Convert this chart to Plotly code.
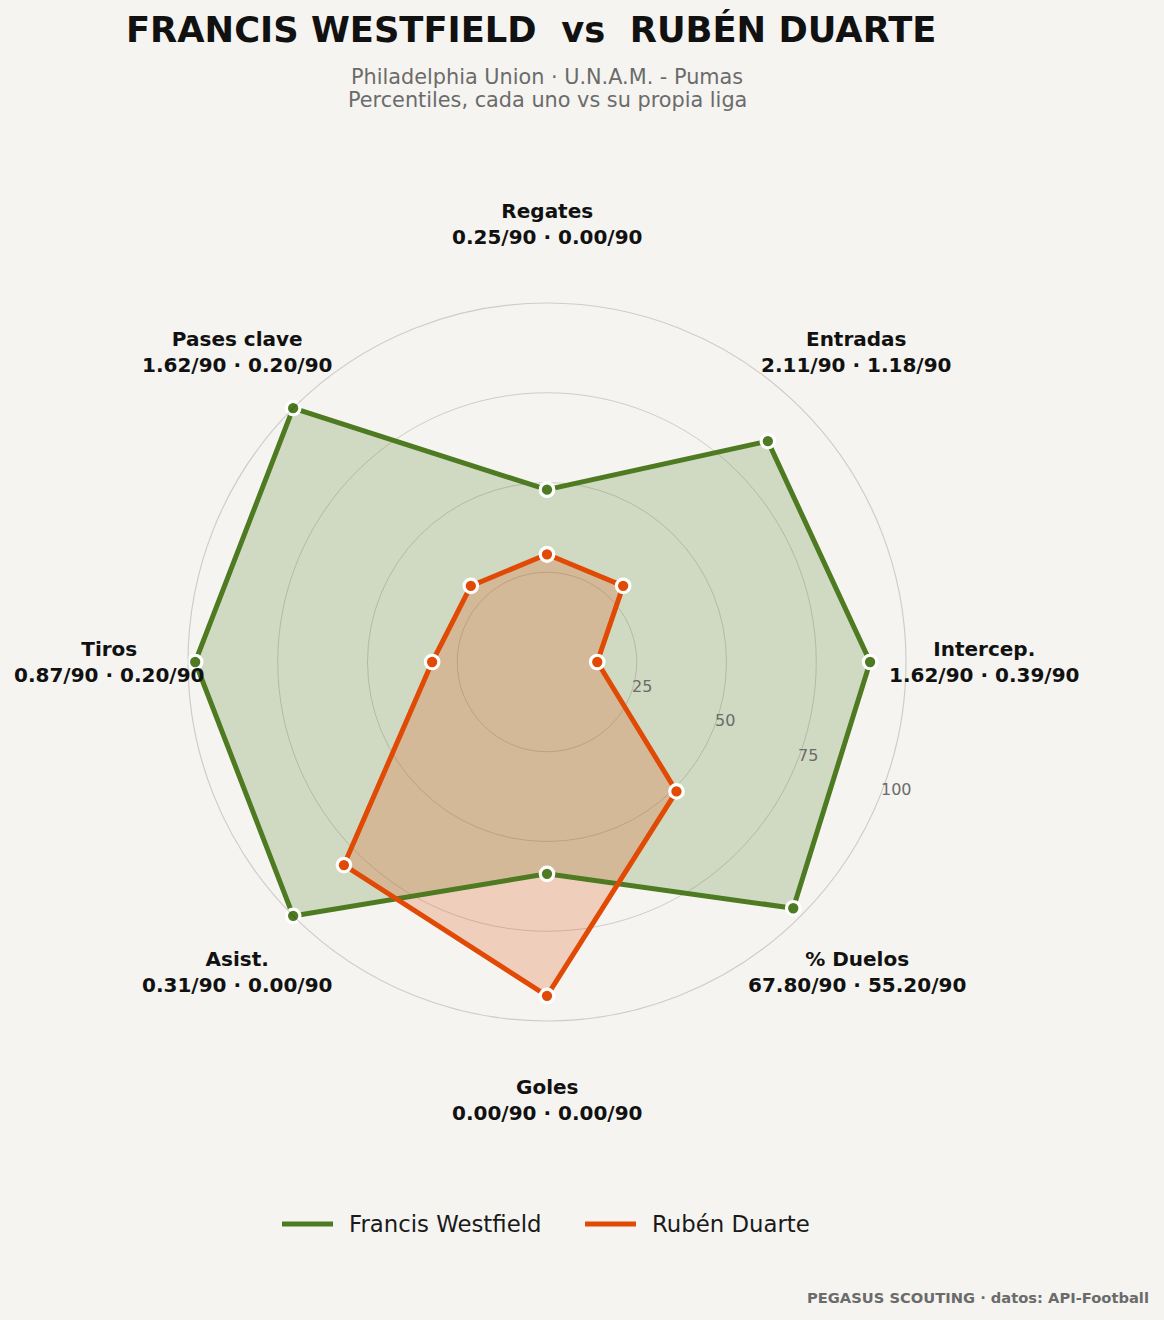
import math
import plotly.graph_objects as go

categories = ["Regates", "Entradas", "Intercep.", "% Duelos", "Goles", "Asist.", "Tiros", "Pases clave"]
stat_labels = ["0.25/90 · 0.00/90", "2.11/90 · 1.18/90", "1.62/90 · 0.39/90", "67.80/90 · 55.20/90",
               "0.00/90 · 0.00/90", "0.31/90 · 0.00/90", "0.87/90 · 0.20/90", "1.62/90 · 0.20/90"]
westfield = [48, 87, 90, 97, 59, 100, 98, 100]
duarte = [30, 30, 14, 51, 93, 80, 32, 30]
player_names = ["Francis Westfield", "Rubén Duarte"]
radial_ticks = [25, 50, 75, 100]

W, H = 1164, 1320
BG = "#f5f4f0"
GREEN = "#4e7a22"
ORANGE = "#e04a05"
FONT = "DejaVu Sans"

cx, cy, R = 547, 662, 359  # polar centre / radius in pixels
RMAX = 100

fig = go.Figure()

def closed(v):
    return list(v) + [v[0]]

colors = [GREEN, ORANGE]
fills = ["rgba(78,122,34,0.22)", "rgba(224,74,5,0.22)"]
series = [westfield, duarte]

# fills first (under all outlines)
for name, vals, fill in zip(player_names, series, fills):
    fig.add_trace(go.Scatterpolar(
        r=closed(vals), theta=closed(categories), mode="none",
        fill="toself", fillcolor=fill, name=name, showlegend=False, hoverinfo="skip",
    ))
# outlines + markers on top
for name, vals, col in zip(player_names, series, colors):
    fig.add_trace(go.Scatterpolar(
        r=closed(vals), theta=closed(categories), mode="lines+markers",
        line=dict(color=col, width=5),
        marker=dict(size=13.5, color=col, line=dict(color="white", width=3.2)),
        name=name, showlegend=False,
    ))

def px2paper(px, py):
    return px / W, 1 - py / H

annotations = []
shapes = []

# category labels outside the circle
for i, (cat, st) in enumerate(zip(categories, stat_labels)):
    th = math.radians(i * 360 / len(categories))
    rl = R * 1.22
    x, y = px2paper(cx + rl * math.sin(th), cy - rl * math.cos(th))
    annotations.append(dict(
        x=x, y=y, xref="paper", yref="paper",
        text=f"<b>{cat}</b><br><b>{st}</b>", showarrow=False,
        font=dict(family=FONT, size=20, color="#111111"),
        xanchor="center", yanchor="middle", align="center",
    ))

# radial tick labels, horizontal, at 22.5° below the Intercep. spoke
lab_ang = math.radians(22.5)
for v in radial_ticks:
    rr = R * v / RMAX
    x, y = px2paper(cx + rr * math.cos(lab_ang), cy + rr * math.sin(lab_ang) - 10)
    annotations.append(dict(
        x=x, y=y, xref="paper", yref="paper", text=str(v), showarrow=False,
        font=dict(family=FONT, size=16, color="#6b6b6b"),
        xanchor="left", yanchor="middle",
    ))

annotations.append(dict(
    x=531 / W, y=1 - 30 / H, xref="paper", yref="paper",
    text="<b>FRANCIS WESTFIELD  vs  RUBÉN DUARTE</b>", showarrow=False,
    font=dict(family=FONT, size=35.3, color="#111111"), xanchor="center", yanchor="middle",
))
for txt, yy in [("Philadelphia Union · U.N.A.M. - Pumas", 77),
                ("Percentiles, cada uno vs su propia liga", 100)]:
    annotations.append(dict(
        x=547 / W, y=1 - yy / H, xref="paper", yref="paper", text=txt,
        showarrow=False, font=dict(family=FONT, size=20.8, color="#6b6b6b"),
        xanchor="center", yanchor="middle",
    ))
annotations.append(dict(
    x=1151 / W, y=1 - 1297 / H, xref="paper", yref="paper",
    text="<b>PEGASUS SCOUTING · datos: API-Football</b>", showarrow=False,
    font=dict(family=FONT, size=14.7, color="#6b6b6b"), xanchor="right", yanchor="middle",
))

# legend (line handles + names)
legend_y = 1 - 1224 / H
for name, col, x0 in zip(player_names, colors, [282, 585]):
    shapes.append(dict(type="line", xref="paper", yref="paper",
                       x0=x0 / W, x1=(x0 + 51) / W, y0=legend_y, y1=legend_y,
                       line=dict(color=col, width=5)))
    annotations.append(dict(
        x=(x0 + 65) / W, y=legend_y, xref="paper", yref="paper", text=name,
        showarrow=False, font=dict(family=FONT, size=22.8, color="#1a1a1a"),
        xanchor="left", yanchor="middle",
    ))

fig.update_layout(
    width=W, height=H, paper_bgcolor=BG, plot_bgcolor=BG,
    margin=dict(l=0, r=0, t=0, b=0),
    font=dict(family=FONT),
    showlegend=False,
    polar=dict(
        domain=dict(x=[(cx - R) / W, (cx + R) / W], y=[1 - (cy + R) / H, 1 - (cy - R) / H]),
        bgcolor="rgba(0,0,0,0)",
        angularaxis=dict(rotation=90, direction="clockwise", showticklabels=False,
                         ticks="", showgrid=False, showline=True,
                         linecolor="rgba(0,0,0,0.16)", linewidth=1.2),
        radialaxis=dict(range=[0, RMAX], tickvals=radial_ticks, ticks="", showline=False,
                        showticklabels=False, gridcolor="rgba(0,0,0,0.16)", gridwidth=1.2),
    ),
    annotations=annotations,
    shapes=shapes,
)

fig.write_html("out.html", config={"displayModeBar": False},
               post_script="document.body.style.margin='0px';")
